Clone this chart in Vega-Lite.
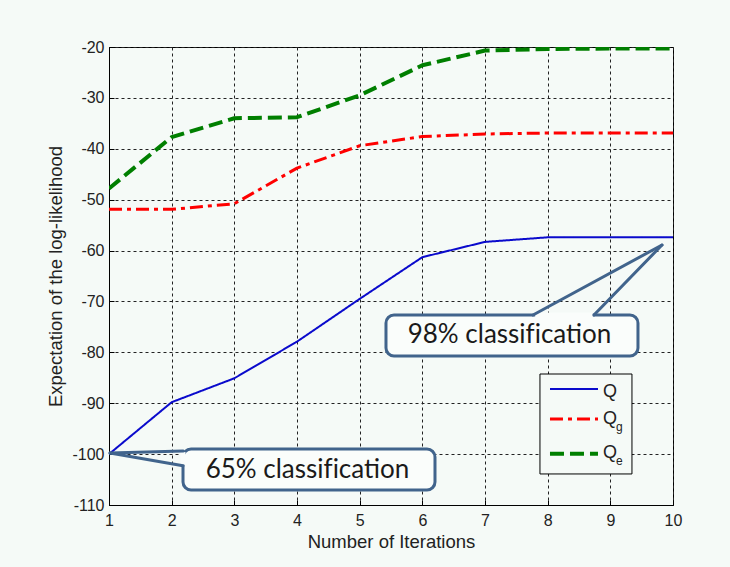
{
  "$schema": "https://vega.github.io/schema/vega-lite/v6.json",
  "width": 564,
  "height": 458,
  "autosize": "none",
  "padding": {"left": 109, "top": 47, "right": 57, "bottom": 62},
  "background": "#f5faf7",
  "config": {
    "view": {"stroke": "#000000", "strokeWidth": 1, "fill": "#f5faf7"},
    "axis": {
      "labelFont": "Liberation Sans",
      "labelFontSize": 16,
      "labelColor": "#222222",
      "titleFont": "Liberation Sans",
      "titleFontSize": 18.5,
      "titleFontWeight": "normal",
      "titleColor": "#222222",
      "domainColor": "#000000",
      "domainWidth": 1,
      "tickColor": "#000000",
      "tickSize": -5,
      "grid": true,
      "gridColor": "#222222",
      "gridOpacity": 1,
      "gridWidth": 1,
      "gridDash": [3, 3]
    }
  },
  "data": {
    "values": [
      {"iteration": 1, "series": "Q", "value": -100},
      {"iteration": 2, "series": "Q", "value": -89.8},
      {"iteration": 3, "series": "Q", "value": -85.1},
      {"iteration": 4, "series": "Q", "value": -77.9},
      {"iteration": 5, "series": "Q", "value": -69.5},
      {"iteration": 6, "series": "Q", "value": -61.3},
      {"iteration": 7, "series": "Q", "value": -58.3},
      {"iteration": 8, "series": "Q", "value": -57.4},
      {"iteration": 9, "series": "Q", "value": -57.4},
      {"iteration": 10, "series": "Q", "value": -57.4},
      {"iteration": 1, "series": "Qg", "value": -51.9},
      {"iteration": 2, "series": "Qg", "value": -51.9},
      {"iteration": 3, "series": "Qg", "value": -50.8},
      {"iteration": 4, "series": "Qg", "value": -43.8},
      {"iteration": 5, "series": "Qg", "value": -39.4},
      {"iteration": 6, "series": "Qg", "value": -37.6},
      {"iteration": 7, "series": "Qg", "value": -37.1},
      {"iteration": 8, "series": "Qg", "value": -36.9},
      {"iteration": 9, "series": "Qg", "value": -36.9},
      {"iteration": 10, "series": "Qg", "value": -36.9},
      {"iteration": 1, "series": "Qe", "value": -47.8},
      {"iteration": 2, "series": "Qe", "value": -37.7},
      {"iteration": 3, "series": "Qe", "value": -34.0},
      {"iteration": 4, "series": "Qe", "value": -33.8},
      {"iteration": 5, "series": "Qe", "value": -29.5},
      {"iteration": 6, "series": "Qe", "value": -23.6},
      {"iteration": 7, "series": "Qe", "value": -20.7},
      {"iteration": 8, "series": "Qe", "value": -20.4},
      {"iteration": 9, "series": "Qe", "value": -20.3},
      {"iteration": 10, "series": "Qe", "value": -20.3}
    ]
  },
  "layer": [
    {
      "mark": {"type": "line", "strokeCap": "butt", "strokeJoin": "round", "clip": true},
      "encoding": {
        "x": {
          "field": "iteration", "type": "quantitative",
          "scale": {"domain": [1, 10], "nice": false, "zero": false},
          "axis": {"title": "Number of Iterations", "values": [1, 2, 3, 4, 5, 6, 7, 8, 9, 10], "labelExpr": "toString(datum.value)", "labelPadding": 12, "titlePadding": 4, "labelFlush": false}
        },
        "y": {
          "field": "value", "type": "quantitative",
          "scale": {"domain": [-110, -20], "nice": false, "zero": false},
          "axis": {"title": "Expectation of the log-likelihood", "values": [-110, -100, -90, -80, -70, -60, -50, -40, -30, -20], "labelExpr": "toString(datum.value)", "labelPadding": 10, "titlePadding": 6, "labelFlush": false}
        },
        "color": {
          "field": "series", "type": "nominal",
          "scale": {"domain": ["Q", "Qg", "Qe"], "range": ["#0a0acc", "#ff0000", "#007f00"]},
          "legend": null
        },
        "strokeDash": {
          "field": "series", "type": "nominal",
          "scale": {"domain": ["Q", "Qg", "Qe"], "range": [[1, 0], [13, 5, 4, 5], [14, 6]]},
          "legend": null
        },
        "strokeWidth": {
          "field": "series", "type": "nominal",
          "scale": {"domain": ["Q", "Qg", "Qe"], "range": [2, 4, 4.5]},
          "legend": null
        }
      }
    },
    {
      "data": {"values": [{}]},
      "mark": {"type": "rect", "cornerRadius": 8, "fill": "#fafdfb", "stroke": "#41648c", "strokeWidth": 3},
      "encoding": {
        "x": {"datum": 5.42, "type": "quantitative"},
        "x2": {"datum": 9.441},
        "y": {"datum": -72.66, "type": "quantitative"},
        "y2": {"datum": -80.72}
      }
    },
    {
      "data": {"values": [{}]},
      "mark": {"type": "rule", "stroke": "#fafdfb", "strokeWidth": 5},
      "encoding": {
        "x": {"datum": 7.8, "type": "quantitative"},
        "x2": {"datum": 8.72},
        "y": {"datum": -72.66, "type": "quantitative"}
      }
    },
    {
      "data": {"values": [{}]},
      "mark": {"type": "rule", "stroke": "#41648c", "strokeWidth": 3, "strokeCap": "round"},
      "encoding": {
        "x": {"datum": 7.766, "type": "quantitative"},
        "x2": {"datum": 9.824},
        "y": {"datum": -72.66, "type": "quantitative"},
        "y2": {"datum": -58.91}
      }
    },
    {
      "data": {"values": [{}]},
      "mark": {"type": "rule", "stroke": "#41648c", "strokeWidth": 3, "strokeCap": "round"},
      "encoding": {
        "x": {"datum": 8.739, "type": "quantitative"},
        "x2": {"datum": 9.824},
        "y": {"datum": -72.66, "type": "quantitative"},
        "y2": {"datum": -58.91}
      }
    },
    {
      "data": {"values": [{}]},
      "mark": {"type": "text", "text": "98% classif\u200Cication", "font": "Lato", "fontSize": 26, "color": "#1a1a1a", "align": "center", "baseline": "alphabetic"},
      "encoding": {
        "x": {"datum": 7.391, "type": "quantitative"},
        "y": {"datum": -78.16, "type": "quantitative"}
      }
    },
    {
      "data": {"values": [{}]},
      "mark": {"type": "rect", "cornerRadius": 8, "fill": "#fafdfb", "stroke": "#41648c", "strokeWidth": 3},
      "encoding": {
        "x": {"datum": 2.181, "type": "quantitative"},
        "x2": {"datum": 6.202},
        "y": {"datum": -98.99, "type": "quantitative"},
        "y2": {"datum": -107.05}
      }
    },
    {
      "data": {"values": [{}]},
      "mark": {"type": "rule", "stroke": "#fafdfb", "strokeWidth": 5},
      "encoding": {
        "x": {"datum": 2.181, "type": "quantitative"},
        "y": {"datum": -99.6, "type": "quantitative"},
        "y2": {"datum": -102.1}
      }
    },
    {
      "data": {"values": [{}]},
      "mark": {"type": "rule", "stroke": "#41648c", "strokeWidth": 3, "strokeCap": "round"},
      "encoding": {
        "x": {"datum": 2.181, "type": "quantitative"},
        "x2": {"datum": 1.016},
        "y": {"datum": -99.4, "type": "quantitative"},
        "y2": {"datum": -99.8}
      }
    },
    {
      "data": {"values": [{}]},
      "mark": {"type": "rule", "stroke": "#41648c", "strokeWidth": 3, "strokeCap": "round"},
      "encoding": {
        "x": {"datum": 2.181, "type": "quantitative"},
        "x2": {"datum": 1.016},
        "y": {"datum": -102.3, "type": "quantitative"},
        "y2": {"datum": -99.8}
      }
    },
    {
      "data": {"values": [{}]},
      "mark": {"type": "text", "text": "65% classif\u200Cication", "font": "Lato", "fontSize": 26, "color": "#1a1a1a", "align": "center", "baseline": "alphabetic"},
      "encoding": {
        "x": {"datum": 4.167, "type": "quantitative"},
        "y": {"datum": -104.75, "type": "quantitative"}
      }
    },
    {
      "data": {"values": [{}]},
      "mark": {"type": "rect", "fill": "#f5faf7", "stroke": "#000000", "strokeWidth": 1},
      "encoding": {
        "x": {"datum": 7.877, "type": "quantitative"},
        "x2": {"datum": 9.345},
        "y": {"datum": -84.26, "type": "quantitative"},
        "y2": {"datum": -103.9}
      }
    },
    {
      "data": {"values": [{}]},
      "mark": {"type": "rule", "strokeCap": "butt"},
      "encoding": {
        "x": {"datum": 8.037, "type": "quantitative"},
        "x2": {"datum": 8.803},
        "y": {"datum": -87.2, "type": "quantitative"},
        "color": {"datum": "Q", "type": "nominal"},
        "strokeDash": {"datum": "Q", "type": "nominal"},
        "strokeWidth": {"datum": "Q", "type": "nominal"}
      }
    },
    {
      "data": {"values": [{}]},
      "mark": {"type": "rule", "strokeCap": "butt"},
      "encoding": {
        "x": {"datum": 8.037, "type": "quantitative"},
        "x2": {"datum": 8.803},
        "y": {"datum": -93.1, "type": "quantitative"},
        "color": {"datum": "Qg", "type": "nominal"},
        "strokeDash": {"datum": "Qg", "type": "nominal"},
        "strokeWidth": {"datum": "Qg", "type": "nominal"}
      }
    },
    {
      "data": {"values": [{}]},
      "mark": {"type": "rule", "strokeCap": "butt"},
      "encoding": {
        "x": {"datum": 8.037, "type": "quantitative"},
        "x2": {"datum": 8.803},
        "y": {"datum": -99.95, "type": "quantitative"},
        "color": {"datum": "Qe", "type": "nominal"},
        "strokeDash": {"datum": "Qe", "type": "nominal"},
        "strokeWidth": {"datum": "Qe", "type": "nominal"}
      }
    },
    {
      "data": {"values": [{}]},
      "mark": {"type": "text", "text": "Q", "font": "Liberation Sans", "fontSize": 18, "color": "#222222", "align": "left", "baseline": "alphabetic"},
      "encoding": {"x": {"datum": 8.882, "type": "quantitative"}, "y": {"datum": -88.78, "type": "quantitative"}}
    },
    {
      "data": {"values": [{}]},
      "mark": {"type": "text", "text": "Q", "font": "Liberation Sans", "fontSize": 18, "color": "#222222", "align": "left", "baseline": "alphabetic"},
      "encoding": {"x": {"datum": 8.882, "type": "quantitative"}, "y": {"datum": -94.08, "type": "quantitative"}}
    },
    {
      "data": {"values": [{}]},
      "mark": {"type": "text", "text": "Q", "font": "Liberation Sans", "fontSize": 18, "color": "#222222", "align": "left", "baseline": "alphabetic"},
      "encoding": {"x": {"datum": 8.882, "type": "quantitative"}, "y": {"datum": -100.76, "type": "quantitative"}}
    },
    {
      "data": {"values": [{}]},
      "mark": {"type": "text", "text": "g", "font": "Liberation Sans", "fontSize": 12, "color": "#222222", "align": "left", "baseline": "alphabetic"},
      "encoding": {"x": {"datum": 9.09, "type": "quantitative"}, "y": {"datum": -95.46, "type": "quantitative"}}
    },
    {
      "data": {"values": [{}]},
      "mark": {"type": "text", "text": "e", "font": "Liberation Sans", "fontSize": 12, "color": "#222222", "align": "left", "baseline": "alphabetic"},
      "encoding": {"x": {"datum": 9.09, "type": "quantitative"}, "y": {"datum": -102.14, "type": "quantitative"}}
    }
  ]
}
